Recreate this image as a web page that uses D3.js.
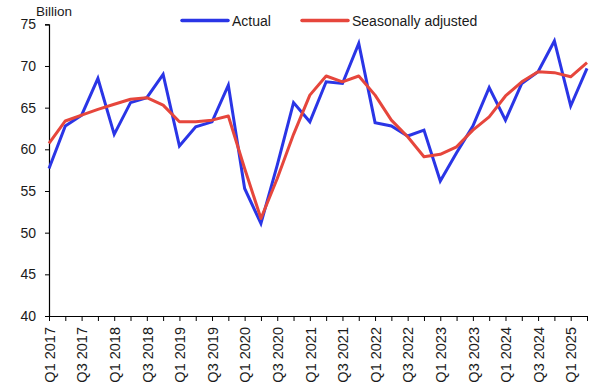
<!DOCTYPE html>
<html><head><meta charset="utf-8">
<script src="https://cdn.jsdelivr.net/npm/d3@7/dist/d3.min.js"></script>
<style>body{margin:0;background:#fff}svg{display:block}text{font-family:"Liberation Sans",Arial,sans-serif;fill:#1a1a1a}</style>
</head><body><svg id="c" width="604" height="385"></svg>
<script>
const quarters = [];
for (let y = 2017; y <= 2025; y++) for (let q = 1; q <= 4; q++) { if (y === 2025 && q > 2) break; quarters.push("Q" + q + " " + y); }
const actual = [57.7,62.8,64.1,68.5,61.8,65.6,66.2,69.0,60.4,62.7,63.3,67.7,55.3,51.1,58.1,65.6,63.3,68.1,67.9,72.7,63.2,62.8,61.6,62.3,56.2,59.6,62.8,67.4,63.5,67.9,69.3,73.0,65.2,69.7];
const seasonal = [60.7,63.4,64.1,64.8,65.4,66.0,66.2,65.3,63.3,63.3,63.5,64.0,57.7,51.7,56.5,61.8,66.5,68.8,68.1,68.8,66.5,63.5,61.5,59.1,59.4,60.3,62.3,63.9,66.4,68.1,69.3,69.2,68.7,70.4];
const yTicks = [40,45,50,55,60,65,70,75];
const labelQuarters = quarters.filter((d,i)=> i%2===0);

const svg = d3.select("#c");
const x = d3.scalePoint().domain(quarters).range([49, 587]);
const y = d3.scaleLinear().domain([40, 75]).range([316, 24.3]);

// y axis
const ya = svg.append("g").attr("transform","translate(49,0)")
  .call(d3.axisLeft(y).tickValues(yTicks).tickSize(4).tickPadding(9));
ya.select(".domain").attr("stroke","#000").attr("stroke-width",1.2);
ya.selectAll(".tick line").attr("stroke","#000");
ya.selectAll("text").style("font-size","14px").attr("fill","#1a1a1a");

// x axis
const xa = svg.append("g").attr("transform","translate(0,316)")
  .call(d3.axisBottom(x).tickSize(5).tickSizeOuter(0).tickFormat(d => labelQuarters.includes(d) ? d : ""));
xa.select(".domain").attr("stroke","#000").attr("stroke-width",1.2);
xa.selectAll(".tick line").attr("stroke","#000");
xa.selectAll("text").style("font-size","14.5px").attr("fill","#1a1a1a")
  .attr("transform","rotate(-90)").attr("text-anchor","end").attr("dy","0.36em").attr("x",-11).attr("y",0);

// lines
const line = d3.line().x((d,i)=>x(quarters[i])).y(d=>y(d));
svg.append("path").datum(actual).attr("d",line).attr("fill","none").attr("stroke","#2a35e6").attr("stroke-width",3).attr("stroke-linejoin","miter");
svg.append("path").datum(seasonal).attr("d",line).attr("fill","none").attr("stroke","#e6463c").attr("stroke-width",3).attr("stroke-linejoin","round");

// billion label
svg.append("text").attr("x",36).attr("y",15.5).style("font-size","13.5px").text("Billion");

// legend
const leg = [{name:"Actual",color:"#2a35e6",x:182},{name:"Seasonally adjusted",color:"#e6463c",x:302}];
leg.forEach(l=>{
  svg.append("line").attr("x1",l.x).attr("x2",l.x+46).attr("y1",20.5).attr("y2",20.5).attr("stroke",l.color).attr("stroke-width",3.5).attr("stroke-linecap","round");
  svg.append("text").attr("x",l.x+50).attr("y",25.5).style("font-size","14px").text(l.name);
});
</script></body></html>
